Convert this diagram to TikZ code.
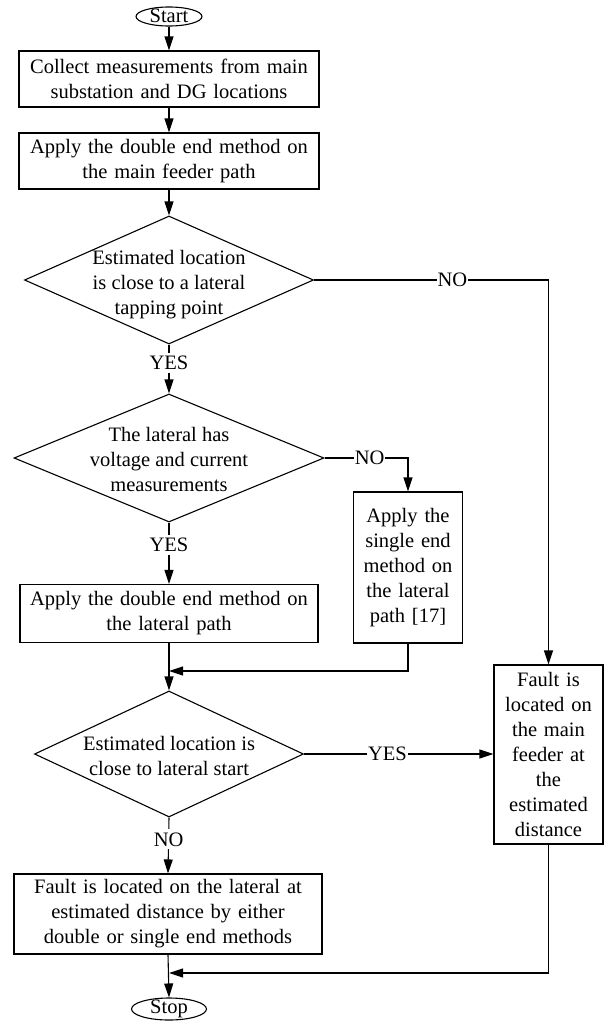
\documentclass[tikz,border=0pt]{standalone}
\usepackage{fontspec}
\setmainfont{Liberation Serif}
\usetikzlibrary{shapes.geometric,arrows.meta}
\begin{document}
\begin{tikzpicture}[x=1pt,y=-1pt,
  font=\fontsize{20.5}{25}\selectfont,
  line width=1.1pt,
  box/.style={draw, rectangle, align=center, inner sep=0pt},
  term/.style={draw, ellipse, inner sep=0pt},
  dia/.style={draw, diamond, inner sep=0pt},
  txt/.style={align=center, inner sep=0pt},
  lbl/.style={fill=white, inner xsep=1pt, inner ysep=3pt},
  arr/.style={-{Triangle[length=14pt,width=9pt]}}]
\useasboundingbox (0,0) rectangle (613,1023);

\node[term, minimum width=66, minimum height=19] (start) at (169,16.5) {};
\node[txt] (startt) at (169,16) {Start};

\node[box, text width=296, minimum width=300, minimum height=56] (b1) at (169,79)
  {Collect measurements from main\\substation and DG locations};
\node[box, text width=296, minimum width=300, minimum height=56] (b2) at (169,161)
  {Apply the double end method on\\the main feeder path};

\node[dia, minimum width=289, minimum height=128] (d1) at (169,280) {};
\node[txt] (d1t) at (169,285) {Estimated location\\is close to a lateral\\tapping point};

\node[dia, minimum width=310, minimum height=128] (d2) at (169,458) {};
\node[txt] (d2t) at (169,459) {The lateral has\\voltage and current\\measurements};

\node[box, text width=105, minimum width=109, minimum height=151] (sb) at (408,567.5)
  {Apply the\\single end\\method on\\the lateral\\path [17]};

\node[box, text width=294, minimum width=298, minimum height=58] (b3) at (169,613.5)
  {Apply the double end method on\\the lateral path};

\node[dia, minimum width=269, minimum height=126] (d3) at (169,754) {};
\node[txt] (d3t) at (169,756) {Estimated location is\\close to lateral start};

\node[box, text width=105, minimum width=109, minimum height=179] (rb) at (548.5,754.5)
  {Fault is\\located on\\the main\\feeder at\\the\\estimated\\distance};

\node[box, text width=304, minimum width=308, minimum height=80] (fb) at (168,914)
  {Fault is located on the lateral at\\estimated distance by either\\double or single end methods};

\node[term, minimum width=75, minimum height=22] (stop) at (169,1009) {};
\node[txt] (stopt) at (169,1009) {Stop};

\coordinate (m1) at (169,671);
\coordinate (m2) at (169,973);

\draw[arr] (start.south) -- (b1.north);
\draw[arr] (b1.south) -- (b2.north);
\draw[arr] (b2.south) -- (d1.north);
\draw[arr] (d1.east) -- node[lbl, pos=0.59]{NO} (rb.north |- d1.east) -- (rb.north);
\draw[arr] (d1.south) -- node[lbl, pos=0.38]{YES} (d2.north);
\draw[arr] (d2.east) -- node[lbl, pos=0.54]{NO} (sb.north |- d2.east) -- (sb.north);
\draw[arr] (d2.south) -- node[lbl, pos=0.37]{YES} (b3.north);
\draw[arr] (b3.south) -- (d3.north);
\draw[arr] (sb.south) |- (m1);
\draw[arr] (d3.east) -- node[lbl, pos=0.44]{YES} (d3.east -| rb.west);
\draw[arr] (d3.south) -- node[lbl, pos=0.39]{NO} (fb.north);
\draw[arr] (fb.south) -- (stop.north);
\draw[arr] (rb.south) |- (m2);
\end{tikzpicture}
\end{document}
